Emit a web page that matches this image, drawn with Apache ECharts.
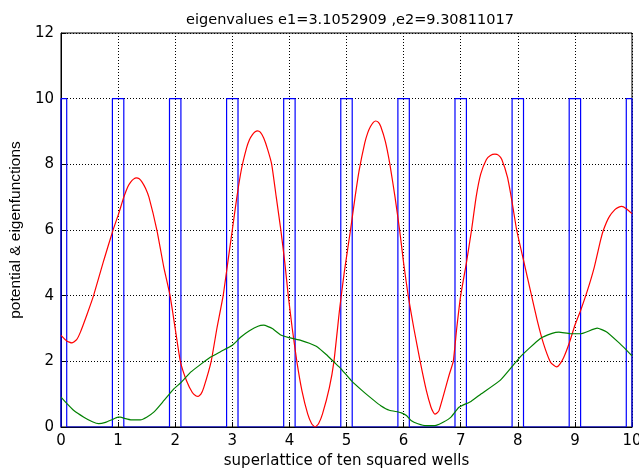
<!DOCTYPE html>
<html>
<head>
<meta charset="utf-8">
<script src="https://cdn.jsdelivr.net/npm/echarts@6/dist/echarts.min.js"></script>
<style>
  html, body { margin: 0; padding: 0; background: #fff; }
  #chart { width: 639px; height: 472px; }
</style>
</head>
<body>
<div id="chart"></div>
<script>
// ---- data ----
const titleText = 'eigenvalues e1=3.1052909 ,e2=9.30811017';
const xAxisName = 'superlattice of ten squared wells';
const yAxisName = 'potential & eigenfunctions';

// square-well potential: barrier edges (x) and barrier height
const barrierLeft  = [0, 0.9, 1.9, 2.9, 3.9, 4.9, 5.9, 6.9, 7.9, 8.9, 9.9];
const barrierRight = [0.1, 1.1, 2.1, 3.1, 4.1, 5.1, 6.1, 7.1, 8.1, 9.1, 10];
const barrierHeight = 10;

// red eigenfunction
const psi1X = [0, 0.1, 0.19, 0.27, 0.34, 0.46, 0.57, 0.75, 0.91, 1.01, 1.1, 1.17, 1.22, 1.27, 1.32, 1.37, 1.42, 1.48, 1.54, 1.68, 1.8, 1.91, 2.0, 2.09, 2.2, 2.3, 2.36, 2.4, 2.45, 2.5, 2.63, 2.73, 2.84, 2.92, 3.0, 3.08, 3.16, 3.25, 3.3, 3.35, 3.4, 3.44, 3.49, 3.55, 3.62, 3.69, 3.77, 3.85, 3.92, 3.98, 4.05, 4.13, 4.22, 4.32, 4.39, 4.45, 4.51, 4.58, 4.7, 4.78, 4.88, 4.96, 5.07, 5.15, 5.22, 5.32, 5.37, 5.42, 5.47, 5.51, 5.56, 5.6, 5.68, 5.76, 5.85, 5.93, 6.0, 6.08, 6.18, 6.29, 6.4, 6.48, 6.52, 6.55, 6.58, 6.62, 6.72, 6.8, 6.87, 6.93, 7.0, 7.1, 7.19, 7.27, 7.35, 7.45, 7.52, 7.6, 7.66, 7.72, 7.82, 7.9, 7.98, 8.1, 8.22, 8.34, 8.45, 8.57, 8.63, 8.68, 8.73, 8.8, 8.9, 9.0, 9.1, 9.22, 9.34, 9.45, 9.5, 9.6, 9.7, 9.76, 9.82, 9.9, 10];
const psi1Y = [2.79, 2.62, 2.56, 2.65, 2.89, 3.45, 4.0, 5.08, 5.99, 6.5, 7.0, 7.32, 7.46, 7.55, 7.59, 7.56, 7.46, 7.27, 7.0, 5.99, 4.87, 4.0, 3.0, 2.0, 1.4, 1.05, 0.95, 0.93, 1.0, 1.2, 2.0, 3.0, 4.0, 5.0, 6.0, 7.0, 7.85, 8.5, 8.75, 8.9, 8.99, 9.02, 8.98, 8.8, 8.45, 8.0, 7.0, 6.0, 5.0, 4.0, 3.0, 2.0, 1.1, 0.4, 0.1, 0.0, 0.1, 0.4, 1.2, 2.0, 3.6, 4.7, 6.0, 7.0, 7.8, 8.65, 8.95, 9.15, 9.28, 9.32, 9.28, 9.15, 8.7, 8.0, 7.0, 6.0, 5.0, 4.0, 3.0, 2.0, 1.1, 0.6, 0.45, 0.39, 0.42, 0.5, 1.1, 1.6, 2.0, 3.0, 4.0, 5.0, 6.0, 7.0, 7.7, 8.15, 8.27, 8.31, 8.28, 8.15, 7.6, 6.85, 6.0, 5.08, 4.16, 3.25, 2.54, 1.98, 1.88, 1.83, 1.9, 2.1, 2.55, 3.1, 3.55, 4.16, 4.87, 5.69, 6.0, 6.4, 6.62, 6.69, 6.72, 6.65, 6.5];

// green eigenfunction
const psi2X = [0, 0.1, 0.22, 0.4, 0.55, 0.66, 0.78, 0.89, 1.0, 1.04, 1.12, 1.22, 1.39, 1.5, 1.63, 1.8, 1.98, 2.1, 2.27, 2.44, 2.62, 2.8, 3.0, 3.15, 3.3, 3.45, 3.55, 3.7, 3.85, 3.99, 4.1, 4.2, 4.35, 4.49, 4.65, 4.78, 4.9, 5.08, 5.28, 5.48, 5.6, 5.75, 5.95, 6.05, 6.13, 6.25, 6.4, 6.57, 6.7, 6.83, 6.97, 7.18, 7.35, 7.69, 8.04, 8.39, 8.6, 8.72, 8.92, 9.1, 9.39, 9.55, 9.75, 9.9, 10];
const psi2Y = [0.91, 0.72, 0.51, 0.30, 0.16, 0.10, 0.14, 0.22, 0.30, 0.30, 0.26, 0.22, 0.22, 0.30, 0.46, 0.80, 1.17, 1.35, 1.67, 1.90, 2.13, 2.30, 2.49, 2.74, 2.93, 3.07, 3.10, 3.00, 2.80, 2.72, 2.68, 2.64, 2.55, 2.44, 2.20, 1.98, 1.78, 1.42, 1.10, 0.81, 0.65, 0.51, 0.44, 0.35, 0.20, 0.10, 0.04, 0.05, 0.15, 0.30, 0.60, 0.78, 1.00, 1.42, 2.13, 2.69, 2.85, 2.89, 2.84, 2.84, 3.01, 2.90, 2.60, 2.35, 2.17];

// ---- build series data ----
const potential = [[barrierLeft[0], 0]];
for (let i = 0; i < barrierLeft.length; i++) {
  potential.push([barrierLeft[i], 0], [barrierLeft[i], barrierHeight],
                 [barrierRight[i], barrierHeight], [barrierRight[i], 0]);
}
const psi1 = psi1X.map((x, i) => [x, psi1Y[i]]);
const psi2 = psi2X.map((x, i) => [x, psi2Y[i]]);

const FONT = 'DejaVu Sans';
const gridLine = { show: true, lineStyle: { color: '#000', type: [1, 2], width: 1 } };

const chart = echarts.init(document.getElementById('chart'), null, { renderer: 'canvas' });
chart.setOption({
  backgroundColor: '#fff',
  animation: false,
  title: {
    text: titleText,
    left: 345,
    top: 8,
    textAlign: 'center',
    textStyle: { fontFamily: FONT, fontSize: 14.5, fontWeight: 'normal', color: '#000' }
  },
  grid: {
    left: 61, right: 7, top: 33, bottom: 45,
    show: true, borderColor: '#000', borderWidth: 1, backgroundColor: '#fff',
    containLabel: false, outerBoundsMode: 'none'
  },
  xAxis: {
    type: 'value', min: 0, max: 10, interval: 1,
    name: xAxisName, nameLocation: 'middle', nameGap: 26,
    nameTextStyle: { fontFamily: FONT, fontSize: 15, color: '#000' },
    axisLine: { show: true, lineStyle: { color: '#000', width: 1 } },
    axisTick: { show: true, inside: true, length: 5, lineStyle: { color: '#000' } },
    axisLabel: { fontFamily: FONT, fontSize: 15, color: '#000', margin: 7 },
    splitLine: gridLine
  },
  yAxis: {
    type: 'value', min: 0, max: 12, interval: 2,
    name: yAxisName, nameLocation: 'middle', nameGap: 34,
    nameTextStyle: { fontFamily: 'Liberation Sans', fontSize: 15.5, color: '#000' },
    axisLine: { show: true, lineStyle: { color: '#000', width: 1 } },
    axisTick: { show: true, inside: true, length: 5, lineStyle: { color: '#000' } },
    axisLabel: { fontFamily: FONT, fontSize: 15, color: '#000', margin: 7 },
    splitLine: gridLine
  },
  series: [
    { type: 'line', data: potential, showSymbol: false, symbol: 'none',
      lineStyle: { color: '#0000ff', width: 1.2 }, z: 3 },
    { type: 'line', data: psi1, showSymbol: false, symbol: 'none', smooth: 0.15,
      lineStyle: { color: '#ff0000', width: 1.2 }, z: 4 },
    { type: 'line', data: psi2, showSymbol: false, symbol: 'none', smooth: 0.15,
      lineStyle: { color: '#008000', width: 1.2 }, z: 5 }
  ]
});
</script>
</body>
</html>
